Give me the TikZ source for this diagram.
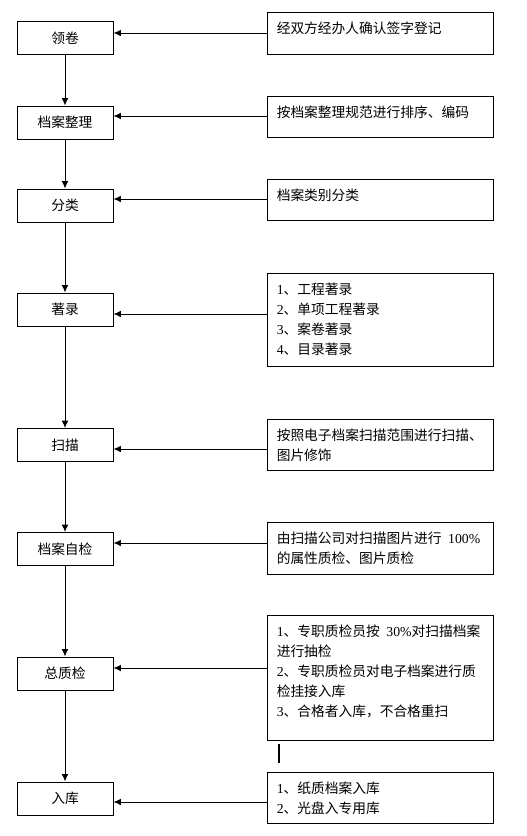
\documentclass[tikz,border=0pt]{standalone}
\usepackage{fontspec}
\setmainfont{Noto Sans CJK SC}
\newfontfamily\lat{Liberation Serif}
\usetikzlibrary{arrows.meta}
\begin{document}
\begin{tikzpicture}[x=0.75pt,y=-0.75pt,
  lbox/.style={draw,line width=0.75pt,minimum width=72pt,minimum height=24.75pt,inner sep=0pt,font=\fontsize{10.3pt}{15pt}\selectfont},
  rbox/.style={draw,line width=0.75pt,minimum width=169.5pt,inner sep=0pt},
  rtext/.style={anchor=north west,inner sep=0pt,align=left,font=\fontsize{10.3pt}{15pt}\selectfont},
  arr/.style={line width=0.75pt,-{Latex[length=5.5pt,width=5pt]}}]
\useasboundingbox (0,0) rectangle (527,836);
% left boxes
\node[lbox] (l1) at (65,38) {领卷};
\node[lbox] (l2) at (65,122.5) {档案整理};
\node[lbox] (l3) at (65,205.5) {分类};
\node[lbox] (l4) at (65,309.5) {著录};
\node[lbox] (l5) at (65,445) {扫描};
\node[lbox] (l6) at (65,549) {档案自检};
\node[lbox] (l7) at (65,673.5) {总质检};
\node[lbox] (l8) at (65,798.5) {入库};
% right boxes
\node[rbox,minimum height=31.5pt] (r1) at (380,33) {};
\node[rbox,minimum height=30.75pt] (r2) at (380,116.5) {};
\node[rbox,minimum height=30.75pt] (r3) at (380,199.5) {};
\node[rbox,minimum height=69.75pt] (r4) at (380,319.5) {};
\node[rbox,minimum height=38.25pt] (r5) at (380,444.5) {};
\node[rbox,minimum height=39pt] (r6) at (380,548) {};
\node[rbox,minimum height=93.75pt] (r7) at (380,677.5) {};
\node[rbox,minimum height=38.25pt] (r8) at (380,797.5) {};
% texts
\node[rtext] (t1) at ([xshift=7.5pt,yshift=-7.5pt]r1.north west) {经双方经办人确认签字登记};
\node[rtext] (t2) at ([xshift=7.5pt,yshift=-7.5pt]r2.north west) {按档案整理规范进行排序、编码};
\node[rtext] (t3) at ([xshift=7.5pt,yshift=-7.5pt]r3.north west) {档案类别分类};
\node[rtext] (t4) at ([xshift=7.5pt,yshift=-7.5pt]r4.north west) {{\lat 1}、工程著录\\{\lat 2}、单项工程著录\\{\lat 3}、案卷著录\\{\lat 4}、目录著录};
\node[rtext] (t5) at ([xshift=7.5pt,yshift=-7.5pt]r5.north west) {按照电子档案扫描范围进行扫描、\\图片修饰};
\node[rtext] (t6) at ([xshift=7.5pt,yshift=-7.5pt]r6.north west) {由扫描公司对扫描图片进行\hspace{5pt}{\lat 100\%}\\的属性质检、图片质检};
\node[rtext] (t7) at ([xshift=7.5pt,yshift=-7.5pt]r7.north west) {{\lat 1}、专职质检员按\hspace{5pt}{\lat 30\%}对扫描档案\\进行抽检\\{\lat 2}、专职质检员对电子档案进行质\\检挂接入库\\{\lat 3}、合格者入库，不合格重扫};
\node[rtext] (t8) at ([xshift=7.5pt,yshift=-7.5pt]r8.north west) {{\lat 1}、纸质档案入库\\{\lat 2}、光盘入专用库};
% vertical arrows
\draw[arr] (l1) -- (l2);
\draw[arr] (l2) -- (l3);
\draw[arr] (l3) -- (l4);
\draw[arr] (l4) -- (l5);
\draw[arr] (l5) -- (l6);
\draw[arr] (l6) -- (l7);
\draw[arr] (l7) -- (l8);
% horizontal arrows
\draw[arr] (r1.west |- 0,33) -- (l1.east |- 0,33);
\draw[arr] (r2.west |- 0,116) -- (l2.east |- 0,116);
\draw[arr] (r3.west |- 0,199) -- (l3.east |- 0,199);
\draw[arr] (r4.west |- 0,314) -- (l4.east |- 0,314);
\draw[arr] (r5.west |- 0,449) -- (l5.east |- 0,449);
\draw[arr] (r6.west |- 0,543) -- (l6.east |- 0,543);
\draw[arr] (r7.west |- 0,668) -- (l7.east |- 0,668);
\draw[arr] (r8.west |- 0,802) -- (l8.east |- 0,802);
% stray mark
\coordinate (m1) at (279,744);
\coordinate (m2) at (279,763);
\draw[line width=1.5pt] (m1) -- (m2);
\end{tikzpicture}
\end{document}
